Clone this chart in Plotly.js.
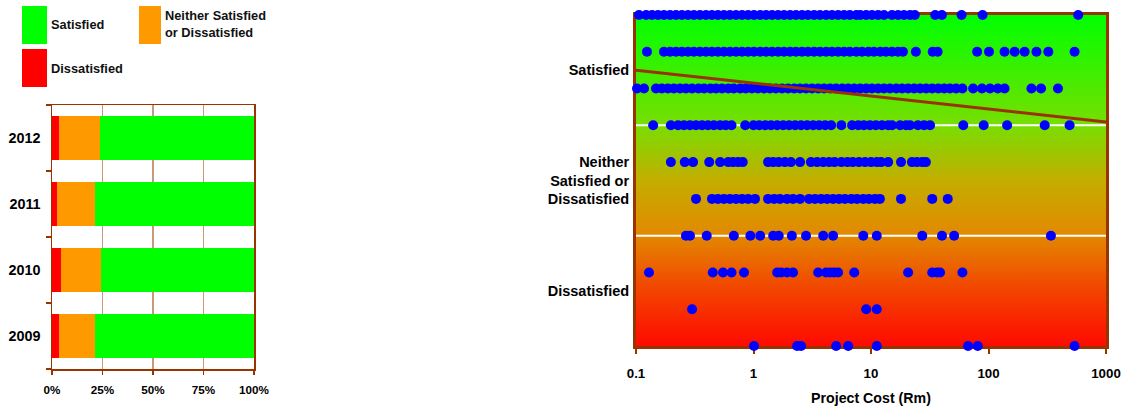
<!DOCTYPE html>
<html>
<head>
<meta charset="utf-8">
<script src="https://cdn.plot.ly/plotly-3.0.1.min.js"></script>
<style>
  html, body { margin: 0; padding: 0; background: #ffffff; }
  #chart { width: 1131px; height: 411px; }
</style>
</head>
<body>
<div id="chart"></div>
<script>
// ---------- Left chart: satisfaction share by year (%) ----------
const years = ['2009', '2010', '2011', '2012'];
const dissatisfiedPct = [3.3, 4.3, 2.3, 3.3];
const neitherPct = [17.9, 19.8, 18.9, 20.3];
const satisfiedPct = [78.8, 75.9, 78.8, 76.4];
const pctTicks = [0, 25, 50, 75, 100];
const pctTickLabels = ['0%', '25%', '50%', '75%', '100%'];

// ---------- Right chart: project cost (Rm) by satisfaction score ----------
const score10 = [0.106, 0.122, 0.137, 0.154, 0.173, 0.195, 0.219, 0.246, 0.277, 0.311, 0.35, 0.394, 0.443, 0.498, 0.56, 0.63, 0.71, 0.8, 0.9, 1.01, 1.14, 1.28, 1.44, 1.62, 1.82, 2.05, 2.3, 2.59, 2.91, 3.28, 3.68, 4.15, 4.66, 5.25, 5.9, 6.6, 7.5, 8.1, 9.1, 10.2, 11.5, 12.9, 15.1, 17.0, 19.1, 21.5, 23.6, 35.2, 40.1, 59, 89, 580];
const score9 = [0.124, 0.173, 0.195, 0.219, 0.246, 0.277, 0.311, 0.35, 0.394, 0.443, 0.498, 0.56, 0.63, 0.71, 0.8, 0.9, 1.01, 1.14, 1.28, 1.44, 1.62, 1.82, 2.05, 2.3, 2.59, 2.91, 3.28, 3.68, 4.15, 4.66, 5.25, 5.9, 6.6, 7.5, 8.4, 9.5, 10.6, 12.0, 13.4, 15.1, 17.0, 18.7, 24.1, 33.5, 36.9, 80, 101, 137, 167, 203, 256, 323, 540];
const score8 = [0.102, 0.117, 0.148, 0.166, 0.187, 0.21, 0.237, 0.266, 0.3, 0.34, 0.38, 0.43, 0.48, 0.54, 0.61, 0.68, 0.77, 0.86, 0.97, 1.09, 1.23, 1.38, 1.55, 1.75, 1.97, 2.22, 2.49, 2.8, 3.15, 3.55, 3.99, 4.49, 5.05, 5.7, 6.4, 7.2, 8.1, 9.1, 10.2, 11.5, 12.9, 14.5, 16.4, 18.4, 20.7, 23.3, 26.2, 29.5, 33.2, 37.4, 42, 47, 53, 60, 74, 88, 103, 120, 137, 232, 280, 390];
const score7 = [0.14, 0.198, 0.228, 0.256, 0.288, 0.324, 0.365, 0.41, 0.46, 0.52, 0.58, 0.65, 0.85, 1.0, 1.12, 1.26, 1.41, 1.59, 1.79, 2.01, 2.26, 2.54, 2.86, 3.22, 3.62, 4.07, 4.58, 5.6, 6.9, 7.8, 8.7, 9.8, 11.0, 12.4, 14.0, 15.1, 17.7, 19.9, 21.5, 25.1, 28.3, 31.8, 61, 91, 144, 301, 490];
const score6 = [0.198, 0.26, 0.306, 0.42, 0.52, 0.61, 0.67, 0.74, 0.81, 1.33, 1.47, 1.64, 1.85, 2.08, 2.49, 3.08, 3.48, 3.92, 4.4, 4.9, 5.6, 6.3, 7.0, 7.9, 8.9, 10.0, 11.2, 12.2, 14.0, 18.0, 22.3, 24.6, 27.3, 29.3];
const score5 = [0.324, 0.443, 0.498, 0.56, 0.63, 0.71, 0.8, 0.9, 1.03, 1.33, 1.5, 1.68, 1.93, 2.17, 2.49, 2.97, 3.34, 3.76, 4.23, 4.76, 5.35, 6.0, 6.8, 7.6, 8.6, 9.6, 10.8, 11.9, 18.0, 33.2, 45];
const score4 = [0.266, 0.288, 0.4, 0.68, 0.94, 1.14, 1.47, 1.64, 2.12, 2.8, 3.92, 4.76, 8.6, 11.2, 27.3, 40.2, 51, 340];
const score3 = [0.129, 0.45, 0.55, 0.65, 0.83, 1.59, 1.72, 1.93, 2.17, 3.55, 4.15, 4.49, 4.85, 5.25, 7.2, 20.7, 33.2, 36.5, 38.7, 60];
const score2 = [0.3, 9.1, 11.2];
const score1 = [1.01, 2.35, 2.54, 5.05, 6.4, 11.2, 67, 81, 540];
const scoreLevels = [10, 9, 8, 7, 6, 5, 4, 3, 2, 1];
const costsByScore = [score10, score9, score8, score7, score6, score5, score4, score3, score2, score1];

const costTicks = [0.1, 1, 10, 100, 1000];
const costTickLabels = ['0.1', '1', '10', '100', '1000'];
const costRange = [0.1, 1000];
const scoreRange = [1, 10];
const bandEdges = [4, 7];
const bandCentres = [2.5, 5.5, 8.5];
const bandLabels = ['Dissatisfied', 'Neither<br>Satisfied or<br>Dissatisfied', 'Satisfied'];
const trendX = [0.1, 1000];
const trendY = [8.5, 7.09];

// ---------- build ----------
const W = 1131, H = 411;
const px = v => v / W;
const py = v => 1 - v / H;
const FONT = 'Liberation Sans, Arial, sans-serif';
const BROWN = '#993300';
const GREEN = '#00ff00', ORANGE = '#ff9900', RED = '#ff0000';

const traces = [];
traces.push({
  type: 'bar', orientation: 'h', y: years, x: dissatisfiedPct, name: 'Dissatisfied',
  marker: {color: RED}, xaxis: 'x', yaxis: 'y', hoverinfo: 'skip'
});
traces.push({
  type: 'bar', orientation: 'h', y: years, x: neitherPct, name: 'Neither Satisfied or Dissatisfied',
  marker: {color: ORANGE}, xaxis: 'x', yaxis: 'y', hoverinfo: 'skip'
});
traces.push({
  type: 'bar', orientation: 'h', y: years, x: satisfiedPct, name: 'Satisfied',
  marker: {color: GREEN}, xaxis: 'x', yaxis: 'y', hoverinfo: 'skip'
});

// gradient background of the scatter panel
traces.push({
  type: 'scatter', mode: 'none', xaxis: 'x2', yaxis: 'y2', hoverinfo: 'skip',
  x: [costRange[0], costRange[1], costRange[1], costRange[0], costRange[0]],
  y: [scoreRange[0], scoreRange[0], scoreRange[1], scoreRange[1], scoreRange[0]],
  fill: 'toself', fillcolor: '#b0b400',
  fillgradient: {
    type: 'vertical',
    colorscale: [[0, '#ff0a00'], [0.18, '#f24800'], [0.333, '#e38800'], [0.5, '#c4ae00'],
                 [0.667, '#78de00'], [0.8, '#48ec00'], [1, '#00ff00']]
  }
});
// white separators between bands
bandEdges.forEach(e => {
  traces.push({
    type: 'scatter', mode: 'lines', xaxis: 'x2', yaxis: 'y2', hoverinfo: 'skip',
    x: costRange, y: [e, e], line: {color: '#ffffff', width: 2}
  });
});
// points
const allX = [], allY = [];
costsByScore.forEach((arr, i) => arr.forEach(c => { allX.push(c); allY.push(scoreLevels[i]); }));
traces.push({
  type: 'scatter', mode: 'markers', xaxis: 'x2', yaxis: 'y2', hoverinfo: 'skip',
  x: allX, y: allY, cliponaxis: false,
  marker: {color: '#0000ff', size: 10, line: {width: 0}}
});
// trend line
traces.push({
  type: 'scatter', mode: 'lines', xaxis: 'x2', yaxis: 'y2', hoverinfo: 'skip',
  x: trendX, y: trendY, cliponaxis: false, line: {color: BROWN, width: 3}
});

// legend for left chart (swatches + text)
const shapes = [
  {type: 'rect', xref: 'paper', yref: 'paper', x0: px(22), x1: px(47), y0: py(44), y1: py(6), fillcolor: GREEN, line: {width: 0}},
  {type: 'rect', xref: 'paper', yref: 'paper', x0: px(139), x1: px(161), y0: py(44), y1: py(6), fillcolor: ORANGE, line: {width: 0}},
  {type: 'rect', xref: 'paper', yref: 'paper', x0: px(22), x1: px(47), y0: py(87), y1: py(49), fillcolor: RED, line: {width: 0}}
];
const legFont = {family: FONT, size: 12.8, color: '#111111', weight: 'bold'};
const annotations = [
  {xref: 'paper', yref: 'paper', x: px(49), y: py(24), xanchor: 'left', yanchor: 'middle', text: 'Satisfied', showarrow: false, font: legFont},
  {xref: 'paper', yref: 'paper', x: px(163), y: py(24), xanchor: 'left', yanchor: 'middle', align: 'left', text: 'Neither Satisfied<br>or Dissatisfied', showarrow: false, font: legFont},
  {xref: 'paper', yref: 'paper', x: px(49), y: py(68), xanchor: 'left', yanchor: 'middle', text: 'Dissatisfied', showarrow: false, font: legFont}
];

const layout = {
  width: W, height: H,
  margin: {l: 0, r: 0, t: 0, b: 0},
  paper_bgcolor: '#ffffff', plot_bgcolor: '#ffffff',
  showlegend: false,
  barmode: 'stack', bargap: 0.33,
  font: {family: FONT, color: '#000000', weight: 'bold'},
  xaxis: {
    domain: [px(52), px(254)], anchor: 'y', range: [0, 100],
    tickvals: pctTicks, ticktext: pctTickLabels, tickfont: {size: 11.7, family: FONT, weight: 'bold'},
    showgrid: true, gridcolor: '#cc9977', gridwidth: 1.5, zeroline: false,
    showline: true, mirror: true, linecolor: BROWN, linewidth: 1.5,
    ticks: 'outside', ticklen: 4, tickcolor: BROWN, tickwidth: 1.5, ticklabelstandoff: 5,
    fixedrange: true
  },
  yaxis: {
    domain: [1 - 369 / H, 1 - 105 / H], anchor: 'x',
    type: 'category', categoryorder: 'array', categoryarray: years,
    tickfont: {size: 14.4, family: FONT, weight: 'bold'},
    showgrid: false, zeroline: false,
    showline: true, mirror: true, linecolor: BROWN, linewidth: 1.5,
    ticks: 'outside', tickson: 'boundaries', ticklen: 5, tickcolor: BROWN, tickwidth: 1.5,
    ticklabelstandoff: 7, fixedrange: true
  },
  xaxis2: {
    domain: [px(636), px(1106)], anchor: 'y2', type: 'log', range: [-1, 3],
    tickvals: costTicks, ticktext: costTickLabels, tickfont: {size: 13.3, family: FONT, weight: 'bold'},
    showgrid: false, zeroline: false, layer: 'below traces',
    showline: true, mirror: true, linecolor: BROWN, linewidth: 3,
    ticks: 'outside', ticklen: 5, tickcolor: BROWN, tickwidth: 2, ticklabelstandoff: 8,
    title: {text: 'Project Cost (Rm)', font: {size: 14.2, family: FONT, weight: 'bold'}, standoff: 14},
    fixedrange: true
  },
  yaxis2: {
    domain: [1 - 346 / H, 1 - 15 / H], anchor: 'x2', range: scoreRange,
    tickvals: bandCentres, ticktext: bandLabels, tickfont: {size: 14.5, family: FONT, weight: 'bold'},
    showgrid: false, zeroline: false, layer: 'below traces',
    showline: true, mirror: true, linecolor: BROWN, linewidth: 3,
    ticks: '', ticklabelstandoff: 1, fixedrange: true
  },
  shapes: shapes,
  annotations: annotations
};

Plotly.newPlot('chart', traces, layout, {displayModeBar: false, staticPlot: true});
</script>
</body>
</html>
